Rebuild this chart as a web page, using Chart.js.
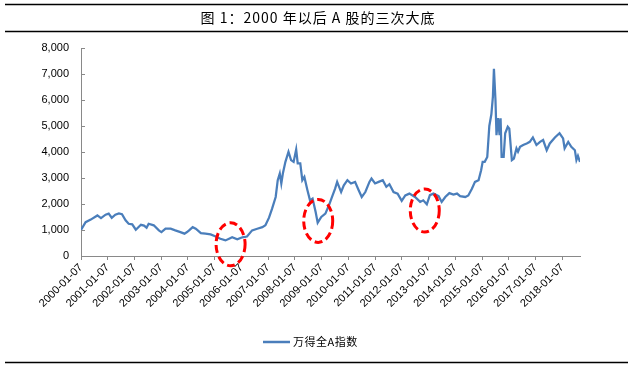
<!DOCTYPE html>
<html><head><meta charset="utf-8">
<script src="https://cdn.jsdelivr.net/npm/chart.js@4.4.1/dist/chart.umd.min.js"></script>
<style>html,body{margin:0;padding:0;background:#fff}#wrap{width:635px;height:369px;position:relative}</style>
</head><body><div id="wrap"><canvas id="c" width="635" height="369"></canvas></div>
<script>
const titleText = '图 1：2000 年以后 A 股的三次大底';
const seriesName = '万得全A指数';
const dates = [
'2000-01-07','2000-03-10','2000-05-19','2000-08-18','2000-10-06','2000-12-08',
'2001-01-19','2001-03-02','2001-04-20','2001-06-08','2001-07-20','2001-09-07','2001-10-19','2001-12-07',
'2002-01-25','2002-04-05','2002-05-17','2002-06-21','2002-07-19','2002-09-27','2002-12-06',
'2003-01-10','2003-03-07','2003-05-16','2003-07-18','2003-09-26','2003-11-21','2003-12-26',
'2004-01-23','2004-03-12','2004-04-23','2004-07-02','2004-09-03','2004-11-12',
'2005-01-21','2005-03-25','2005-06-03','2005-07-22','2005-09-02','2005-11-11',
'2006-01-20','2006-03-24','2006-06-02','2006-08-11','2006-10-20','2006-12-01',
'2007-01-19','2007-03-02','2007-04-20','2007-05-18','2007-06-15','2007-07-06','2007-07-27','2007-08-31','2007-10-12','2007-11-16','2007-12-21',
'2008-01-25','2008-02-15','2008-03-21','2008-04-18','2008-05-16','2008-06-27','2008-08-01','2008-09-05','2008-10-17','2008-11-14',
'2009-01-02','2009-02-27','2009-04-17','2009-05-29','2009-07-10','2009-08-07','2009-09-30','2009-11-06','2009-12-25',
'2010-02-12','2010-04-09','2010-05-28','2010-07-09','2010-08-27','2010-10-22','2010-11-19',
'2011-01-07','2011-02-25','2011-04-22','2011-06-10','2011-07-22','2011-09-16','2011-11-11',
'2012-01-06','2012-02-24','2012-04-20','2012-07-06','2012-09-14','2012-10-26','2012-12-14',
'2013-01-25','2013-03-15','2013-05-24','2013-07-05','2013-08-23','2013-10-18','2013-12-13',
'2014-01-31','2014-03-14','2014-05-23','2014-07-04','2014-08-22','2014-10-03','2014-11-21','2014-12-26',
'2015-01-16','2015-02-13','2015-03-20','2015-04-17','2015-05-15','2015-06-05','2015-06-19','2015-07-10','2015-07-24','2015-08-14','2015-09-04','2015-09-18','2015-10-02','2015-10-30','2015-11-20','2015-12-25',
'2016-01-15','2016-02-19','2016-03-18','2016-04-22','2016-05-13','2016-06-10','2016-07-22','2016-09-09','2016-10-21','2016-12-02',
'2017-01-20','2017-03-10','2017-04-21','2017-06-09','2017-07-21','2017-09-29','2017-12-01',
'2018-01-19','2018-02-09','2018-03-30','2018-05-11','2018-06-29','2018-07-20','2018-08-10','2018-09-07'
];
const values = [
1000,1300,1400,1560,1460,1590,
1630,1470,1590,1640,1610,1370,1240,1220,
1010,1200,1170,1090,1240,1180,985,
920,1050,1050,985,920,860,920,
985,1110,1050,880,860,830,
750,665,600,665,720,640,
720,750,985,1050,1110,1180,
1475,1820,2270,2915,3170,2790,3170,3620,4010,3690,3620,
4100,3560,3560,2915,3040,2530,2140,2210,1690,1280,
1500,1630,1950,2270,2590,2850,2460,2720,2915,
2790,2850,2530,2270,2460,2850,2980,
2790,2850,2915,2660,2760,2460,2400,
2120,2330,2400,2270,2080,2140,1990,
2340,2400,2300,2080,2270,2420,2360,
2400,2300,2270,2330,2590,2850,2915,3300,
3620,3620,3810,5000,5450,6130,7200,6000,4650,5300,4650,5300,3810,3810,4720,4970,
4900,3690,3750,4140,4010,4200,4270,4330,4390,4560,
4270,4390,4460,4070,4330,4560,4720,
4520,4140,4390,4200,4070,3690,3850,3620
];
const yTickValues = [0,1000,2000,3000,4000,5000,6000,7000,8000];
const xTickYears = [2000,2001,2002,2003,2004,2005,2006,2007,2008,2009,2010,2011,2012,2013,2014,2015,2016,2017,2018];
const xStart = '2000-01-07';
const xEnd = '2018-09-07';
const bottomDates = ['2005-08-12','2008-11-21','2012-11-16'];
const bottomLevels = [450,1350,1750];

const toMs = s => { const p = s.split('-').map(Number); return Date.UTC(p[0], p[1]-1, p[2]); };
const pad = n => String(n).padStart(2,'0');
const fmtDate = v => { const d = new Date(v); return d.getUTCFullYear()+'-'+pad(d.getUTCMonth()+1)+'-'+pad(d.getUTCDate()); };
const LINE = '#4A7EBB';
const AXIS = '#898989';

const decor = {
  id: 'decor',
  afterDatasetsDraw(chart) {
    const ctx = chart.ctx, xs = chart.scales.x, ys = chart.scales.y;
    ctx.save();
    ctx.strokeStyle = '#FF0000';
    ctx.lineWidth = 3;
    ctx.setLineDash([8, 4]);
    bottomDates.forEach((d, i) => {
      const cx = xs.getPixelForValue(toMs(d)), cy = ys.getPixelForValue(bottomLevels[i]);
      ctx.beginPath();
      ctx.ellipse(cx, cy, 14.5, 21.5, 0, 0, Math.PI*2);
      ctx.stroke();
    });
    ctx.restore();
  },
  afterDraw(chart) {
    const ctx = chart.ctx, ys = chart.scales.y, left = chart.chartArea.left;
    ctx.save();
    ctx.strokeStyle = AXIS; ctx.lineWidth = 1;
    yTickValues.forEach(v => {
      const y = Math.round(ys.getPixelForValue(v)) + 0.5;
      ctx.beginPath(); ctx.moveTo(left, y); ctx.lineTo(left + 4, y); ctx.stroke();
    });
    ctx.strokeStyle = '#000'; ctx.lineWidth = 1.5;
    [4.5, 31.5, 362.5].forEach(y => { ctx.beginPath(); ctx.moveTo(5, y); ctx.lineTo(628, y); ctx.stroke(); });
    ctx.fillStyle = '#000';
    ctx.font = '14px "Noto Sans CJK SC"';
    ctx.letterSpacing = '1px';
    ctx.textAlign = 'center'; ctx.textBaseline = 'middle';
    ctx.fillText(titleText, 318, 18);
    ctx.letterSpacing = '0.5px';
    ctx.strokeStyle = LINE; ctx.lineWidth = 2.5;
    ctx.beginPath(); ctx.moveTo(263, 342); ctx.lineTo(290, 342); ctx.stroke();
    ctx.font = '11px "Noto Sans CJK SC"';
    ctx.textAlign = 'left';
    ctx.fillText(seriesName, 293, 342);
    ctx.restore();
  }
};

new Chart(document.getElementById('c'), {
  type: 'line',
  data: {
    datasets: [{
      label: seriesName,
      data: dates.map((d, i) => ({x: toMs(d), y: values[i]})),
      borderColor: LINE,
      borderWidth: 2.25,
      pointRadius: 0,
      tension: 0,
      fill: false
    }]
  },
  options: {
    responsive: false,
    animation: false,
    devicePixelRatio: 1,
    layout: {padding: {top: 48, right: 55, bottom: 43, left: 0}},
    plugins: {legend: {display: false}, title: {display: false}, tooltip: {enabled: false}},
    scales: {
      x: {
        type: 'linear',
        min: toMs(xStart),
        max: toMs(xEnd),
        afterBuildTicks: s => { s.ticks = xTickYears.map(y => ({value: Date.UTC(y, 0, 7)})); },
        afterFit: s => { s.height = 70; },
        ticks: {
          autoSkip: false, minRotation: 45, maxRotation: 45, padding: 1,
          color: '#000', font: {family: '"Liberation Sans", Arial', size: 11},
          callback: v => fmtDate(v)
        },
        grid: {drawOnChartArea: false, drawTicks: true, tickLength: 4, tickColor: AXIS},
        border: {color: AXIS, width: 1}
      },
      y: {
        min: 0, max: 8000,
        afterBuildTicks: s => { s.ticks = yTickValues.map(v => ({value: v})); },
        afterFit: s => { s.width = 81; },
        ticks: {
          padding: 12, color: '#000', font: {family: '"Liberation Sans", Arial', size: 11},
          callback: v => v.toLocaleString('en-US')
        },
        grid: {drawOnChartArea: false, drawTicks: false},
        border: {color: AXIS, width: 1}
      }
    }
  },
  plugins: [decor]
});
</script></body></html>
